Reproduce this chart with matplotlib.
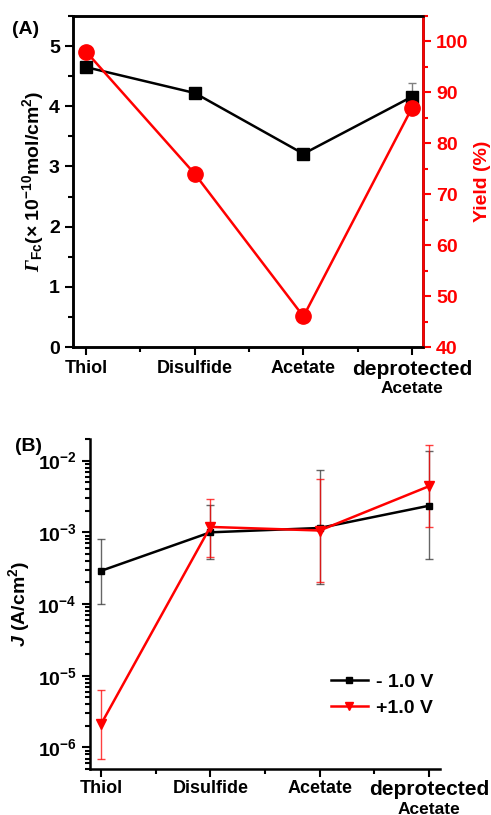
import numpy as np
import matplotlib
matplotlib.use('Agg')
import matplotlib.pyplot as plt
from matplotlib.ticker import MultipleLocator, FixedLocator, LogLocator, NullFormatter
import matplotlib.transforms as mtransforms

plt.rcParams['font.family'] = ['Liberation Sans', 'DejaVu Sans']
plt.rcParams['font.weight'] = 'bold'
plt.rcParams['axes.labelweight'] = 'bold'
plt.rcParams['mathtext.fontset'] = 'custom'
plt.rcParams['mathtext.rm'] = 'Liberation Sans:bold'
plt.rcParams['mathtext.bf'] = 'Liberation Sans:bold'
plt.rcParams['mathtext.it'] = 'Liberation Sans:italic:bold'
plt.rcParams['mathtext.sf'] = 'Liberation Serif:italic'

# data
categories = ['Thiol', 'Disulfide', 'Acetate', 'deprotected']
gamma_fc = [4.65, 4.22, 3.21, 4.16]
gamma_err = [0.06, 0.03, 0.06, 0.23]
yield_pct = [98, 74, 46, 87]

j_neg = [2.9e-4, 1.0e-3, 1.15e-3, 2.35e-3]
j_neg_hi = [8.1e-4, 2.4e-3, 7.3e-3, 1.35e-2]
j_neg_lo = [1.0e-4, 4.3e-4, 1.9e-4, 4.2e-4]
j_pos = [2.1e-6, 1.19e-3, 1.06e-3, 4.4e-3]
j_pos_hi = [6.4e-6, 2.9e-3, 5.5e-3, 1.65e-2]
j_pos_lo = [6.9e-7, 4.5e-4, 2.0e-4, 1.2e-3]

x = np.arange(1, len(categories) + 1)

fig = plt.figure(figsize=(4.91, 8.15), dpi=100)

# ---------- panel A ----------
ax = fig.add_axes([0.1487, 0.5742, 0.7128, 0.4062])
ax.errorbar(x, gamma_fc, yerr=gamma_err, color='black', ecolor='grey', elinewidth=1,
            capsize=3, lw=1.8, marker='s', ms=9, zorder=3)
ax.set_xlim(0.88, 4.1)
ax.set_ylim(0, 5.5)
ax.yaxis.set_major_locator(MultipleLocator(1))
ax.yaxis.set_minor_locator(MultipleLocator(0.5))
ax.xaxis.set_major_locator(FixedLocator(x))
ax.xaxis.set_minor_locator(FixedLocator([1.5, 2.5, 3.5]))
ax.set_xticklabels(categories, fontsize=13, fontweight='bold')
ax.tick_params(axis='both', which='major', direction='out', length=6, width=1.5,
               labelsize=14, top=False, right=False)
ax.tick_params(axis='both', which='minor', direction='out', length=3.5, width=1.5,
               top=False, right=False)
ax.tick_params(axis='x', labelsize=13, pad=3)
ax.get_xticklabels()[-1].set_fontsize(15)
for s in ax.spines.values():
    s.set_linewidth(1.8)
ax.set_ylabel(r'$\mathsf{\Gamma}_{\mathbf{Fc}}$(× 10$^{-10}$mol/cm$^{2}$)', fontsize=14,
              labelpad=2)
trans = mtransforms.blended_transform_factory(ax.transData, ax.transAxes)
ax.text(4, -0.125, 'Acetate', transform=trans, ha='center', va='center', fontsize=12.5,
        fontweight='bold')

ax2 = ax.twinx()
ax2.plot(x, yield_pct, color='red', lw=1.8, marker='o', ms=11, zorder=4)
ax2.set_ylim(40, 105)
ax2.yaxis.set_major_locator(MultipleLocator(10))
ax2.yaxis.set_minor_locator(MultipleLocator(5))
ax2.tick_params(axis='y', which='major', direction='out', length=6, width=1.5,
                colors='red', labelsize=14)
ax2.tick_params(axis='y', which='minor', direction='out', length=3.5, width=1.5,
                colors='red')
for s in ax2.spines.values():
    s.set_linewidth(1.8)
ax2.spines['right'].set_color('red')
ax2.set_ylabel('Yield (%)', color='red', fontsize=14, labelpad=4)

fig.text(0.025, 0.958, '(A)', fontsize=14, fontweight='bold')

# ---------- panel B ----------
bx = fig.add_axes([0.1833, 0.0564, 0.7128, 0.4049])
neg_err = [np.array(j_neg) - np.array(j_neg_lo), np.array(j_neg_hi) - np.array(j_neg)]
pos_err = [np.array(j_pos) - np.array(j_pos_lo), np.array(j_pos_hi) - np.array(j_pos)]
bx.errorbar(x, j_neg, yerr=neg_err, fmt='none', ecolor=(0.2, 0.2, 0.2, 0.75),
            elinewidth=1, capsize=3, zorder=2)
bx.errorbar(x, j_pos, yerr=pos_err, fmt='none', ecolor=(1, 0, 0, 0.75),
            elinewidth=1, capsize=3, zorder=2)
bx.plot(x, j_neg, color='black', lw=1.8, marker='s', ms=5, label='- 1.0 V', zorder=3)
bx.plot(x, j_pos, color='red', lw=1.8, marker='v', ms=7, label='+1.0 V', zorder=4)
bx.set_yscale('log')
bx.set_xlim(0.9, 4.1)
bx.set_ylim(5e-7, 2e-2)
bx.yaxis.set_major_locator(LogLocator(base=10, numticks=10))
bx.yaxis.set_minor_locator(LogLocator(base=10, subs=np.arange(2, 10), numticks=20))
bx.yaxis.set_minor_formatter(NullFormatter())
bx.yaxis.set_major_formatter(plt.FuncFormatter(lambda v, p: '10$^{%d}$' % round(np.log10(v))))
bx.xaxis.set_major_locator(FixedLocator(x))
bx.xaxis.set_minor_locator(FixedLocator([1.5, 2.5, 3.5]))
bx.set_xticklabels(categories)
bx.tick_params(axis='both', which='major', direction='out', length=6, width=1.5,
               labelsize=14)
bx.tick_params(axis='both', which='minor', direction='out', length=3.5, width=1.5)
bx.tick_params(axis='x', labelsize=13, pad=2)
bx.get_xticklabels()[-1].set_fontsize(15)
bx.spines['top'].set_visible(False)
bx.spines['right'].set_visible(False)
for s in ['left', 'bottom']:
    bx.spines[s].set_linewidth(1.8)
bx.set_ylabel(r'$\mathit{J}$ (A/cm$^{2}$)', fontsize=14, labelpad=4)
trans_b = mtransforms.blended_transform_factory(bx.transData, bx.transAxes)
bx.text(4, -0.124, 'Acetate', transform=trans_b, ha='center', va='center', fontsize=12.5,
        fontweight='bold')
leg = bx.legend(loc='center right', bbox_to_anchor=(1.03, 0.224), frameon=False,
                fontsize=14, handlelength=1.9, handletextpad=0.4, labelspacing=0.4,
                markerscale=0.8)

fig.text(0.03, 0.447, '(B)', fontsize=14, fontweight='bold')

fig.savefig('out.png', dpi=100)
